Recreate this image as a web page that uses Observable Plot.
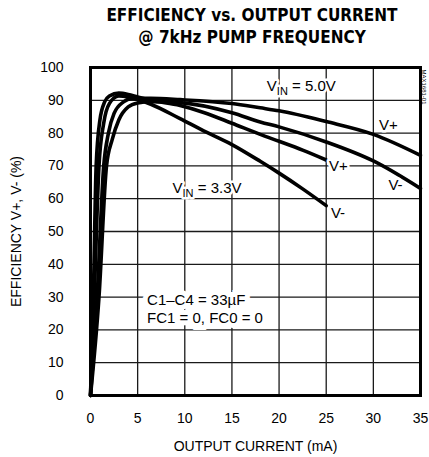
<!DOCTYPE html>
<html><head><meta charset="utf-8">
<script src="https://cdn.jsdelivr.net/npm/d3@7"></script>
<script src="https://cdn.jsdelivr.net/npm/@observablehq/plot@0.6"></script>
<style>
body{margin:0;background:#fff;}
#title{width:429px;height:50px;box-sizing:border-box;padding:4px 9px 0 84px;text-align:center;
font-family:"Liberation Sans Narrow","DejaVu Sans Condensed","Liberation Sans",Arial,sans-serif;font-stretch:condensed;font-weight:bold;font-size:17px;line-height:22px;color:#000;}
</style>
</head><body>
<div id="title">EFFICIENCY vs. OUTPUT CURRENT<br>@ 7kHz PUMP FREQUENCY</div>
<div id="chart"></div>
<script>
// ---- data ----
const xTicks = [0, 5, 10, 15, 20, 25, 30, 35];
const yTicks = [0, 10, 20, 30, 40, 50, 60, 70, 80, 90, 100];

const seriesNames = ["5.0V V+", "5.0V V-", "3.3V V+", "3.3V V-"];

const cur50p = [0, 0.7, 1.4, 1.9, 2.5, 3.5, 4.5, 6.4, 9.5, 15, 18, 20, 25, 30, 35];
const eff50p = [0, 30, 70, 80, 86, 89.5, 90.6, 90.6, 90.2, 89, 87.7, 86.8, 83.5, 79.6, 73.2];

const cur50m = [0, 0.9, 1.7, 2.3, 3, 4, 5, 6.4, 9.5, 15, 18, 20, 25, 30, 35];
const eff50m = [0, 30, 70, 78, 84, 88, 89.2, 89.6, 89.3, 86.2, 83.4, 81.9, 77.3, 71.5, 63.1];

const cur33p = [0, 0.3, 0.6, 1, 1.5, 2, 3, 4, 5, 6.4, 9.5, 12, 15, 18, 20, 22.5, 25];
const eff33p = [0, 30, 70, 84, 89.5, 91.3, 92.2, 91.8, 91, 90, 88.4, 86.3, 83, 79.6, 77.5, 74.8, 71.8];

const cur33m = [0, 0.4, 0.9, 1.4, 2, 3, 4, 5, 6.4, 9.5, 12, 15, 18, 20, 22.5, 25];
const eff33m = [0, 30, 70, 83, 89, 91.3, 91, 90.2, 88.8, 84.4, 80.7, 76.5, 71.4, 67.8, 63, 57.9];

const labelText = ["VIN = 5.0V", "V+", "V-", "VIN = 3.3V", "V+", "V-"];
const labelX = [18.7, 30.6, 31.6, 8.7, 25.3, 25.5];
const labelY = [94.3, 82.3, 64, 63.2, 69.8, 55.5];

const noteText = ["C1\u2013C4 = 33\u00b5F", "FC1 = 0, FC0 = 0"];
const noteX = [6.0, 6.0];
const noteY = [29, 23.5];

const figId = "MAX1681-01";

// ---- build ----
const curs = [cur50p, cur50m, cur33p, cur33m];
const effs = [eff50p, eff50m, eff33p, eff33m];
const rows = [];
seriesNames.forEach((s, k) => curs[k].forEach((c, i) => rows.push({series: s, current: c, eff: effs[k][i]})));
const labels = labelText.map((t, i) => ({t, x: labelX[i], y: labelY[i]}));
const notes = noteText.map((t, i) => ({t, x: noteX[i], y: noteY[i]}));

// grid drawn as two-point paths per tick (from the tick arrays and the axis extents)
const xMin = xTicks[0], xMax = xTicks[xTicks.length - 1];
const yMin = yTicks[0], yMax = yTicks[yTicks.length - 1];
const gridV = xTicks.flatMap(t => [{k: "v" + t, x: t, y: yMin}, {k: "v" + t, x: t, y: yMax}]);
const gridH = yTicks.flatMap(t => [{k: "h" + t, x: xMin, y: t}, {k: "h" + t, x: xMax, y: t}]);

const FONT = "'Liberation Sans', Arial, Helvetica, sans-serif";

const plot = Plot.plot({
  width: 429,
  height: 407,
  marginTop: 17,
  marginBottom: 62,
  marginLeft: 90,
  marginRight: 9,
  style: {fontFamily: FONT, fontSize: "14px", color: "#000", background: "#fff"},
  x: {domain: [0, 35]},
  y: {domain: [0, 100]},
  marks: [
    Plot.line(gridV, {x: "x", y: "y", z: "k", stroke: "#1a1a1a", strokeWidth: 1.3, curve: "linear"}),
    Plot.line(gridH, {x: "x", y: "y", z: "k", stroke: "#1a1a1a", strokeWidth: 1.3, curve: "linear"}),
    Plot.axisX(xTicks, {tickSize: 0, tickPadding: 18, fontSize: 14, label: "OUTPUT CURRENT (mA)", labelAnchor: "center", labelOffset: 55, labelArrow: "none"}),
    Plot.axisY(yTicks, {tickSize: 0, tickPadding: 27, fontSize: 14, label: "EFFICIENCY V+, V- (%)", labelAnchor: "center", labelOffset: 79, labelArrow: "none"}),
    Plot.line(rows, {x: "current", y: "eff", z: "series", stroke: "#000", strokeWidth: 3.6, curve: "monotone-x"}),
    Plot.text(notes, {x: "x", y: "y", text: "t", textAnchor: "start", fontSize: 15, fill: "#000", stroke: "#fff", strokeWidth: 10, strokeLinejoin: "miter"}),
    Plot.text(labels, {x: "x", y: "y", text: "t", textAnchor: "start", fontSize: 15, fill: "#000", stroke: "#fff", strokeWidth: 5}),
    Plot.text([figId], {frameAnchor: "top-right", text: d => d, rotate: 90, dx: 6, dy: 2, textAnchor: "start", fontSize: 6, fill: "#000"}),
    Plot.frame({stroke: "#000", strokeWidth: 3, fill: "none"})
  ]
});
document.getElementById("chart").appendChild(plot);

// post-process: subscript "IN" in the VIN labels
d3.select(plot).selectAll("text").each(function () {
  const t = this.textContent;
  if (t.startsWith("VIN =")) {
    const rest = t.slice(3);
    const el = d3.select(this);
    el.text("");
    el.append("tspan").text("V");
    el.append("tspan").attr("font-size", "11px").attr("dy", "4").text("IN");
    el.append("tspan").attr("dy", "-4").text(rest);
  }
});
</script>
</body></html>
